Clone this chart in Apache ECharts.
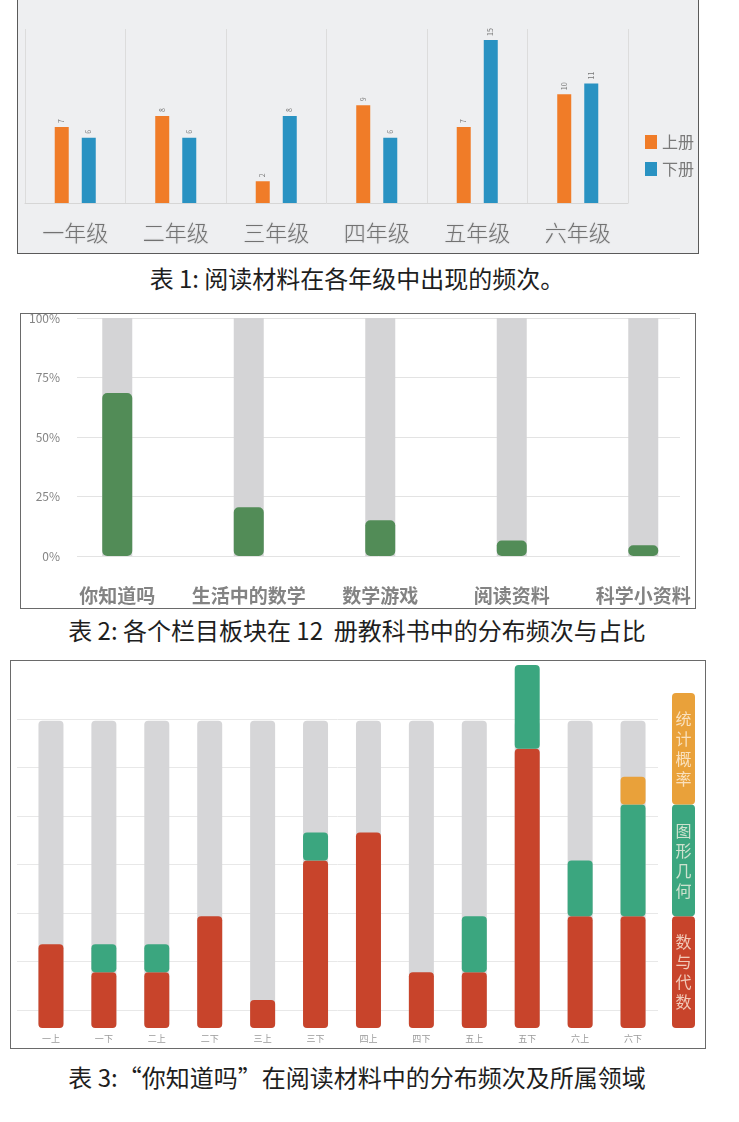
<!DOCTYPE html>
<html lang="zh-CN">
<head>
<meta charset="utf-8">
<title>阅读材料统计图</title>
<script src="https://cdn.jsdelivr.net/npm/echarts@6/dist/echarts.min.js"></script>
<style>
  html, body { margin: 0; padding: 0; background: #ffffff; }
  body { width: 739px; height: 1122px; position: relative; overflow: hidden;
         font-family: "Noto Sans CJK SC", "Noto Sans", sans-serif; }
  .box { position: absolute; box-sizing: border-box; border: 1px solid #5a5a5a; }
  #box1 { left: 17px; top: -1px; width: 682px; height: 255px; background: #eeeff1; }
  #box2 { left: 20px; top: 313px; width: 676px; height: 296px; background: #ffffff; border-color: #6a6a6a; }
  #box3 { left: 10px; top: 660px; width: 696px; height: 389px; background: #ffffff; border-color: #6a6a6a; }
  .cap { position: absolute; left: 0; width: 714px; text-align: center; font-size: 24px;
         line-height: 30px; color: #1e1e1e; white-space: nowrap; font-weight: 400; }
  #chart { position: absolute; left: 0; top: 0; width: 739px; height: 1122px; }
</style>
</head>
<body>
<div class="box" id="box1"></div>
<div class="box" id="box2"></div>
<div class="box" id="box3"></div>
<div class="cap" style="top:263px;">表 1: 阅读材料在各年级中出现的频次。</div>
<div class="cap" style="top:615px;">表 2: 各个栏目板块在 12&nbsp; 册教科书中的分布频次与占比</div>
<div class="cap" style="top:1062px;">表 3:“你知道吗”在阅读材料中的分布频次及所属领域</div>
<div id="chart"></div>
<script>
// ---- Chart 1 data ----
const grades = ['一年级', '二年级', '三年级', '四年级', '五年级', '六年级'];
const upperVolume = [7, 8, 2, 9, 7, 10];   // 上册
const lowerVolume = [6, 6, 8, 6, 15, 11];  // 下册

// ---- Chart 2 data ----
const columnNames = ['你知道吗', '生活中的数学', '数学游戏', '阅读资料', '科学小资料'];
const columnShare = [68.5, 20.5, 15, 6.5, 4.5];
const columnFull = [100, 100, 100, 100, 100];

// ---- Chart 3 data ----
const terms = ['一上', '一下', '二上', '二下', '三上', '三下', '四上', '四下', '五上', '五下', '六上', '六下'];
const numberAlgebra = [3, 2, 2, 4, 1, 6, 7, 2, 2, 10, 4, 4];
const geometry = [0, 1, 1, 0, 0, 1, 0, 0, 2, 3, 2, 4];
const statistics = [0, 0, 0, 0, 0, 0, 0, 0, 0, 0, 0, 1];
const termBackground = [11, 11, 11, 11, 11, 11, 11, 11, 11, 11, 11, 11];
const domainNames = ['数与代数', '图形几何', '统计概率'];
const domainKey = [4, 4, 4];

const FONT = '"Noto Sans CJK SC", "Noto Sans", sans-serif';
const C_RED = '#c8442b', C_GREEN = '#3ba67f', C_ORANGE = '#e9a13a';
const domainColors = [C_RED, C_GREEN, C_ORANGE];

const chart = echarts.init(document.getElementById('chart'), null, { renderer: 'canvas' });

const keySeries = domainNames.map((n, i) => ({
  type: 'bar', name: n + '图例', xAxisIndex: 5, yAxisIndex: 5, stack: 'key',
  barWidth: '100%', data: [domainKey[i]], silent: true,
  itemStyle: { color: domainColors[i], borderRadius: 4 },
  label: {
    show: true, position: 'inside', formatter: () => n.split('').join('\n'),
    fontFamily: FONT, fontSize: 16, lineHeight: 20, color: 'rgba(255,246,232,0.75)'
  }
}));

const option = {
  animation: false,
  textStyle: { fontFamily: FONT },
  legend: {
    data: ['上册', '下册'], orient: 'vertical', left: 640, top: 129,
    itemWidth: 12, itemHeight: 14, itemGap: 11, icon: 'rect',
    textStyle: { fontSize: 16, color: '#7a7a7a', fontFamily: FONT }, selectedMode: false
  },
  grid: [
    { left: 25, top: 29, width: 603, height: 174 },
    { left: 51.5, top: 318, width: 657.5, height: 238 },
    { left: 77, top: 318, width: 603, height: 238 },
    { left: 24.5, top: 665, width: 635, height: 363 },
    { left: 17, top: 719, width: 641, height: 291 },
    { left: 672, top: 665, width: 23, height: 363 }
  ],
  xAxis: [
    { type: 'category', gridIndex: 0, data: grades,
      axisTick: { show: false }, axisLine: { lineStyle: { color: '#d6d6d6' } },
      splitLine: { show: true, lineStyle: { color: '#dcdcdc' } },
      axisLabel: { interval: 0, fontSize: 22, fontWeight: 300, color: '#727272', margin: 19, fontFamily: FONT,
        textShadowColor: 'rgba(0,0,0,0.18)', textShadowBlur: 2 } },
    { type: 'category', gridIndex: 1, data: columnNames,
      axisTick: { show: false }, axisLine: { show: false },
      axisLabel: { interval: 0, fontSize: 19, fontWeight: 'bold', color: '#838383', margin: 30, fontFamily: FONT } },
    { type: 'value', gridIndex: 2, min: 0, max: 1, show: false },
    { type: 'category', gridIndex: 3, data: terms,
      axisTick: { show: false }, axisLine: { show: false },
      axisLabel: { interval: 0, fontSize: 9, color: '#9a9a9a', margin: 6, fontFamily: FONT } },
    { type: 'value', gridIndex: 4, min: 0, max: 1, show: false },
    { type: 'category', gridIndex: 5, data: [''], show: false }
  ],
  yAxis: [
    { type: 'value', gridIndex: 0, min: 0, max: 16, show: false },
    { type: 'value', gridIndex: 1, min: 0, max: 100, show: false },
    { type: 'value', gridIndex: 2, min: 0, max: 100, interval: 25,
      axisLine: { show: false }, axisTick: { show: false },
      axisLabel: { formatter: '{value}%', fontSize: 12, color: '#858585', margin: 17, fontFamily: FONT },
      splitLine: { lineStyle: { color: '#e3e3e3' } } },
    { type: 'value', gridIndex: 3, min: 0, max: 13, show: false },
    { type: 'value', gridIndex: 4, min: 0, max: 6, interval: 1,
      axisLine: { show: false }, axisTick: { show: false }, axisLabel: { show: false },
      splitLine: { lineStyle: { color: '#e8e8e8' } } },
    { type: 'value', gridIndex: 5, min: 0, max: 13, show: false }
  ],
  series: [
    { type: 'bar', name: '上册', xAxisIndex: 0, yAxisIndex: 0, data: upperVolume,
      barWidth: 14, barGap: '93%', itemStyle: { color: '#f07c28' },
      label: { show: true, position: 'top', rotate: 90, align: 'left', verticalAlign: 'middle',
        distance: 4, fontSize: 7, color: '#777777' } },
    { type: 'bar', name: '下册', xAxisIndex: 0, yAxisIndex: 0, data: lowerVolume,
      barWidth: 14, barGap: '93%', itemStyle: { color: '#2992c2' },
      label: { show: true, position: 'top', rotate: 90, align: 'left', verticalAlign: 'middle',
        distance: 4, fontSize: 7, color: '#777777' } },

    { type: 'bar', name: '总量', xAxisIndex: 1, yAxisIndex: 1, data: columnFull,
      barWidth: 30, barGap: '-100%', silent: true, itemStyle: { color: '#d4d4d6' } },
    { type: 'bar', name: '占比', xAxisIndex: 1, yAxisIndex: 1, data: columnShare,
      barWidth: 30, barGap: '-100%', itemStyle: { color: '#528c57', borderRadius: 5 } },

    { type: 'bar', name: '背景', xAxisIndex: 3, yAxisIndex: 3, data: termBackground,
      barWidth: 25, barGap: '-100%', silent: true, itemStyle: { color: '#d6d6d8', borderRadius: 4 } },
    { type: 'bar', name: domainNames[0], xAxisIndex: 3, yAxisIndex: 3, stack: 'dom', data: numberAlgebra,
      barWidth: 25, barGap: '-100%', itemStyle: { color: C_RED, borderRadius: 4 } },
    { type: 'bar', name: domainNames[1], xAxisIndex: 3, yAxisIndex: 3, stack: 'dom', data: geometry,
      barWidth: 25, barGap: '-100%', itemStyle: { color: C_GREEN, borderRadius: 4 } },
    { type: 'bar', name: domainNames[2], xAxisIndex: 3, yAxisIndex: 3, stack: 'dom', data: statistics,
      barWidth: 25, barGap: '-100%', itemStyle: { color: C_ORANGE, borderRadius: 4 } }
  ].concat(keySeries)
};
chart.setOption(option);
</script>
</body>
</html>
